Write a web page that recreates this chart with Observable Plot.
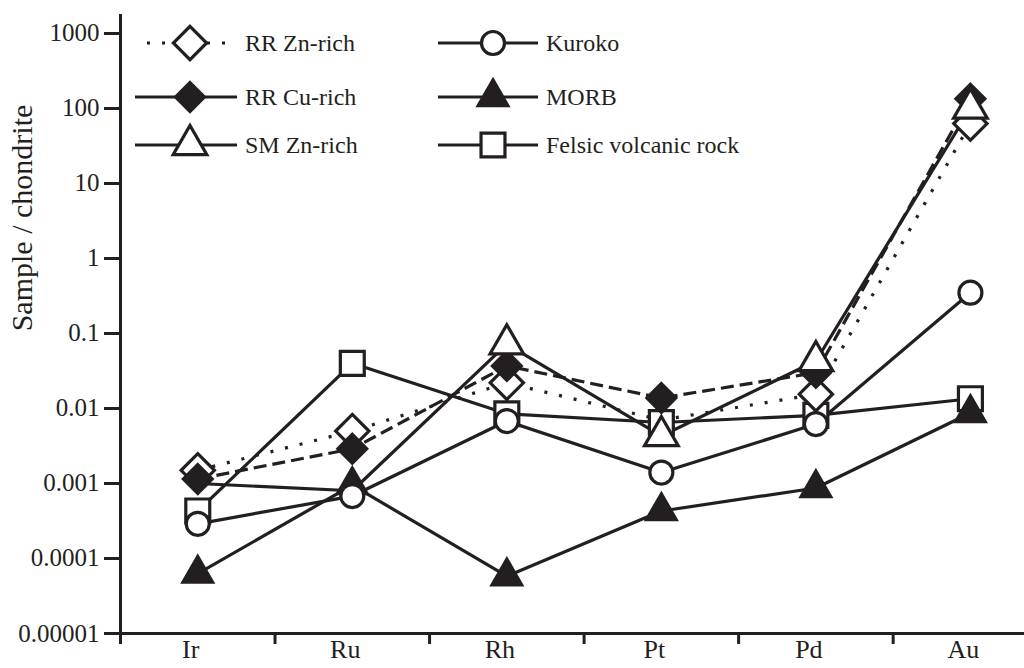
<!DOCTYPE html>
<html>
<head>
<meta charset="utf-8">
<script src="https://cdn.jsdelivr.net/npm/d3@7"></script>
<script src="https://cdn.jsdelivr.net/npm/@observablehq/plot@0.6"></script>
<style>
  html, body { margin: 0; padding: 0; background: #fff; }
  #wrap { position: relative; width: 1024px; height: 668px; overflow: hidden; font-family: "Liberation Serif", "Tinos", "Nimbus Roman", "DejaVu Serif", serif; }
  #wrap svg { position: absolute; left: 0; top: 0; }
  #wrap svg text { font-family: "Liberation Serif", "Tinos", "Nimbus Roman", "DejaVu Serif", serif; }
  #ytitle { position: absolute; left: 22px; top: 218px; transform: translate(-50%, -50%) rotate(-90deg); white-space: nowrap; font-size: 30px; line-height: 1; color: #231f20; }
</style>
</head>
<body>
<div id="wrap"><div id="ytitle">Sample / chondrite</div></div>
<script>
// ---- data ----
const elements = ["Ir", "Ru", "Rh", "Pt", "Pd", "Au"];
const seriesNames = ["RR Zn-rich", "RR Cu-rich", "SM Zn-rich", "Kuroko", "MORB", "Felsic volcanic rock"];
const rrZnRich = [0.0015, 0.005, 0.022, 0.007, 0.0155, 63];
const rrCuRich = [0.00115, 0.0029, 0.037, 0.0138, 0.030, 135];
const smZnRich = [0.001, 0.0008, 0.072, 0.0043, 0.043, 100];
const kuroko = [0.00029, 0.00068, 0.0068, 0.0014, 0.0062, 0.35];
const morb = [0.000063, 0.00095, 0.000058, 0.00043, 0.00087, 0.0087];
const felsic = [0.00043, 0.04, 0.0085, 0.0065, 0.0081, 0.0135];
// points whose marker is hidden in the original figure (0 = no visible marker)
const rrZnRichMarker = [1, 1, 1, 0, 1, 1];
const smZnRichMarker = [0, 0, 1, 1, 1, 1];
const yTicks = [1e-5, 1e-4, 1e-3, 1e-2, 1e-1, 1, 10, 100, 1000];
const yTickLabels = ["0.00001", "0.0001", "0.001", "0.01", "0.1", "1", "10", "100", "1000"];

// ---- styles ----
const INK = "#231f20";
const FONT = "'Liberation Serif', 'Tinos', 'Nimbus Roman', 'DejaVu Serif', serif";
const styles = {
  "RR Zn-rich": {values: rrZnRich, marker: rrZnRichMarker, symbol: "diamond2", d3sym: d3.symbolDiamond2, fill: "white", r: 15, dash: "3,12"},
  "RR Cu-rich": {values: rrCuRich, symbol: "diamond2", d3sym: d3.symbolDiamond2, fill: INK, r: 13, dash: "13,6"},
  "SM Zn-rich": {values: smZnRich, marker: smZnRichMarker, symbol: "triangle", d3sym: d3.symbolTriangle, fill: "white", r: 12.5, dash: null},
  "Kuroko": {values: kuroko, symbol: "circle", d3sym: d3.symbolCircle, fill: "white", r: 11.5, dash: null},
  "MORB": {values: morb, symbol: "triangle", d3sym: d3.symbolTriangle, fill: INK, r: 11, dash: null},
  "Felsic volcanic rock": {values: felsic, symbol: "square", d3sym: d3.symbolSquare, fill: "white", r: 13.5, dash: null}
};

const rows = seriesNames.flatMap(name => styles[name].values.map((v, i) => ({
  series: name, i, v, shown: styles[name].marker ? styles[name].marker[i] === 1 : true
})));
const drawOrder = ["Felsic volcanic rock", "MORB", "Kuroko", "RR Zn-rich", "RR Cu-rich", "SM Zn-rich"];

const lineMarks = seriesNames.map(name => {
  const s = styles[name];
  return Plot.line(rows.filter(d => d.series === name), {
    x: "i", y: "v", stroke: INK, strokeWidth: 3.2,
    strokeDasharray: s.dash || undefined, strokeLinecap: "butt", strokeLinejoin: "miter"
  });
});
const dotMarks = drawOrder.map(name => {
  const s = styles[name];
  return Plot.dot(rows.filter(d => d.series === name && d.shown), {
    x: "i", y: "v", symbol: () => s.symbol, r: s.r,
    fill: s.fill, stroke: INK, strokeWidth: 3.2
  });
});

const xBoundaries = [-0.5, 0.5, 1.5, 2.5, 3.5, 4.5];

const chart = Plot.plot({
  width: 1024,
  height: 668,
  marginLeft: 120,
  marginRight: 0,
  marginTop: 14,
  marginBottom: 35,
  style: {fontFamily: FONT, color: INK, background: "transparent", overflow: "visible"},
  x: {type: "linear", domain: [-0.5, 5.35]},
  y: {type: "log", domain: [1e-5, 1791]},
  marks: [
    Plot.axisY({ticks: yTicks, tickFormat: d => yTickLabels[yTicks.indexOf(d)], tickSize: 16, tickPadding: 5,
      fontSize: 25, stroke: INK, strokeWidth: 3, label: null}),
    Plot.axisX({ticks: xBoundaries, tickFormat: () => "", tickSize: 11, stroke: INK, strokeWidth: 3, label: null}),
    Plot.axisX({ticks: d3.range(elements.length), tickFormat: i => elements[i], tickSize: 0, tickPadding: 6,
      fontSize: 26, dx: -7, label: null}),
    Plot.ruleY([1e-5], {stroke: INK, strokeWidth: 3}),
    Plot.ruleX([-0.5], {stroke: INK, strokeWidth: 3}),
    ...lineMarks,
    ...dotMarks
  ]
});
document.getElementById("wrap").appendChild(chart);

// ---- legend overlay ----
const legendCols = [
  {names: ["RR Zn-rich", "RR Cu-rich", "SM Zn-rich"], x0: 135, x1: 237, xm: 190, xt: 245},
  {names: ["Kuroko", "MORB", "Felsic volcanic rock"], x0: 438, x1: 538, xm: 493, xt: 546}
];
const rowY = [43, 97, 145];
const leg = d3.create("svg").attr("width", 1024).attr("height", 668)
  .style("pointer-events", "none")
  .style("font-family", FONT);
legendCols.forEach(col => {
  col.names.forEach((name, k) => {
    const s = styles[name];
    const y = rowY[k];
    const g = leg.append("g");
    const dash = name === "RR Zn-rich" ? s.dash : null;
    g.append("line")
      .attr("x1", dash ? col.x0 + 12 : col.x0).attr("x2", col.x1)
      .attr("y1", y).attr("y2", y)
      .attr("stroke", INK).attr("stroke-width", 3.2)
      .attr("stroke-dasharray", dash);
    g.append("path")
      .attr("transform", `translate(${col.xm},${y})`)
      .attr("d", d3.symbol(s.d3sym, Math.PI * s.r * s.r)())
      .attr("fill", s.fill).attr("stroke", INK).attr("stroke-width", 3.2);
    g.append("text")
      .attr("x", col.xt).attr("y", y).attr("dy", "0.35em")
      .attr("font-size", 24).attr("fill", INK)
      .text(name);
  });
});
document.getElementById("wrap").appendChild(leg.node());
</script>
</body>
</html>
